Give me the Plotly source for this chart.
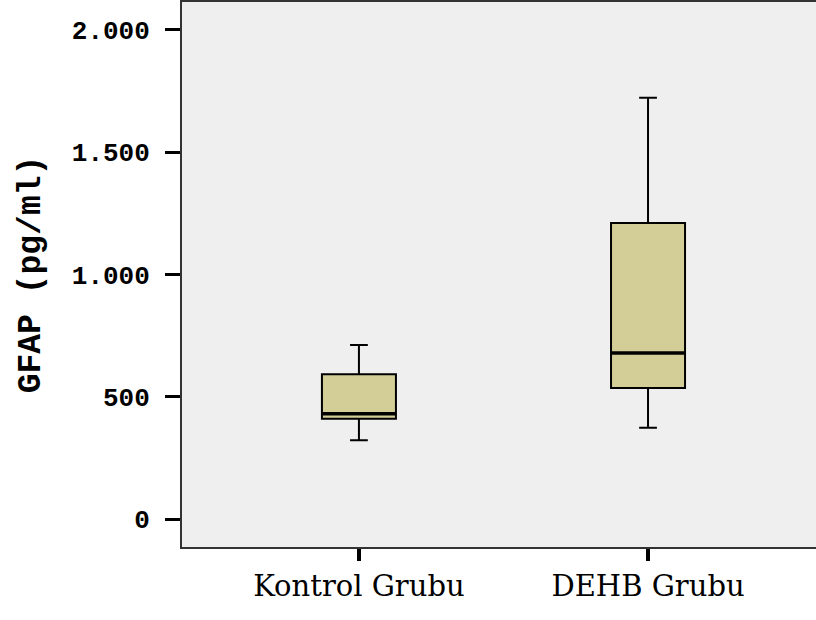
import plotly.graph_objects as go

categories = ["Kontrol Grubu", "DEHB Grubu"]
lower_whisker = [322, 373]
q1_values = [410, 536]
median_values = [431, 679]
q3_values = [592, 1211]
upper_whisker = [712, 1723]

y_tick_values = [0, 500, 1000, 1500, 2000]
y_tick_labels = ["0", "500", "1.000", "1.500", "2.000"]

positions = list(range(len(categories)))
box_width = 0.256
fill_color = "#d3ce97"

fig = go.Figure()
fig.add_trace(go.Box(
    x=positions,
    q1=q1_values,
    median=median_values,
    q3=q3_values,
    lowerfence=lower_whisker,
    upperfence=upper_whisker,
    width=box_width,
    whiskerwidth=0.24,
    fillcolor=fill_color,
    line=dict(color="black", width=2),
    boxpoints=False,
    hoverinfo="skip",
    showlegend=False,
))

# thicker median lines, drawn from the median values
for p, m in zip(positions, median_values):
    fig.add_trace(go.Scatter(
        x=[p - box_width / 2, p + box_width / 2],
        y=[m, m],
        mode="lines",
        line=dict(color="black", width=3.5),
        hoverinfo="skip",
        showlegend=False,
    ))

fig.update_layout(
    width=816,
    height=620,
    margin=dict(l=182, r=0, t=0, b=73),
    paper_bgcolor="white",
    plot_bgcolor="#efefef",
    showlegend=False,
    xaxis=dict(
        range=[-0.612, 1.581],
        tickmode="array",
        tickvals=positions,
        ticktext=categories,
        ticks="outside",
        ticklen=12,
        tickwidth=4,
        tickcolor="black",
        showline=True,
        linecolor="#333333",
        linewidth=2,
        mirror=True,
        showgrid=False,
        zeroline=False,
        tickfont=dict(family="DejaVu Serif", size=29, color="black"),
    ),
    yaxis=dict(
        range=[-114, 2114],
        tickmode="array",
        tickvals=y_tick_values,
        ticktext=y_tick_labels,
        ticks="outside",
        ticklen=15,
        tickwidth=3,
        tickcolor="black",
        ticklabelstandoff=10,
        showline=True,
        linecolor="#333333",
        linewidth=2,
        mirror=False,
        showgrid=False,
        zeroline=False,
        tickfont=dict(family="Liberation Mono", size=26, color="black", weight="bold"),
        title=dict(
            text="GFAP (pg/ml)",
            font=dict(family="Liberation Mono", size=33, color="black", weight="bold"),
            standoff=21,
        ),
    ),
)

fig.write_html("out.html")
